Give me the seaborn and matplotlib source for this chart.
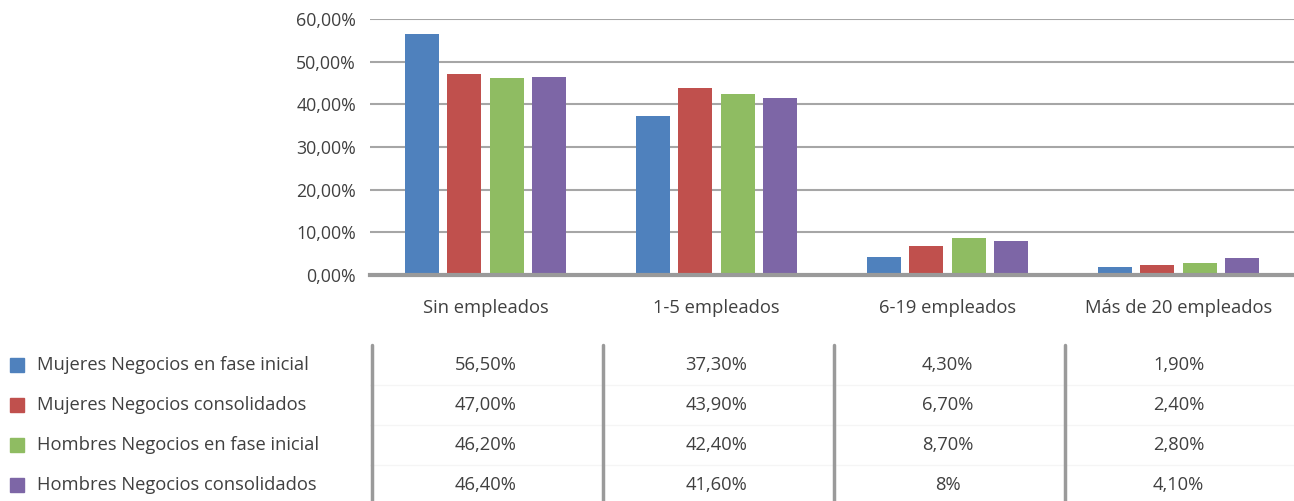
import matplotlib
matplotlib.use("Agg")
import matplotlib.pyplot as plt
import seaborn as sns
import pandas as pd
from matplotlib.lines import Line2D
from matplotlib.patches import Rectangle
from matplotlib.ticker import FuncFormatter

categories = ["Sin empleados", "1-5 empleados", "6-19 empleados", "Más de 20 empleados"]
series = [
    "Mujeres Negocios en fase inicial",
    "Mujeres Negocios consolidados",
    "Hombres Negocios en fase inicial",
    "Hombres Negocios consolidados",
]
mujeres_inicial = [56.5, 37.3, 4.3, 1.9]
mujeres_consolidados = [47.0, 43.9, 6.7, 2.4]
hombres_inicial = [46.2, 42.4, 8.7, 2.8]
hombres_consolidados = [46.4, 41.6, 8.0, 4.1]
table_labels = [
    ["56,50%", "37,30%", "4,30%", "1,90%"],
    ["47,00%", "43,90%", "6,70%", "2,40%"],
    ["46,20%", "42,40%", "8,70%", "2,80%"],
    ["46,40%", "41,60%", "8%", "4,10%"],
]
colors = ["#4F81BD", "#C0504D", "#8FBC62", "#7D66A6"]

values = [mujeres_inicial, mujeres_consolidados, hombres_inicial, hombres_consolidados]
rows = []
for name, vals in zip(series, values):
    for cat, v in zip(categories, vals):
        rows.append({"categoria": cat, "serie": name, "valor": v / 100})
df = pd.DataFrame(rows)

sns.set_style("white")
plt.rcParams["font.family"] = ["Open Sans", "DejaVu Sans"]
text_color = "#404040"

W, H = 1294, 501
fig = plt.figure(figsize=(W / 100, H / 100), dpi=100)
left = 370 / W
ax = fig.add_axes([left, 1 - 275 / H, 1 - left, (275 - 19) / H])

sns.barplot(data=df, x="categoria", y="valor", hue="serie", order=categories,
            hue_order=series, palette=colors, width=0.73, gap=0.19,
            saturation=1, linewidth=0, ax=ax, legend=False)

ax.set_xlim(-0.5, 3.5)
ax.set_ylim(0, 0.6)
ax.set_yticks([0, 0.1, 0.2, 0.3, 0.4, 0.5, 0.6])
ax.yaxis.set_major_formatter(FuncFormatter(lambda v, _: f"{v * 100:.2f}%".replace(".", ",")))
ax.grid(axis="y", color="#A6A6A6", linewidth=1.5)
ax.set_axisbelow(True)
for s in ["left", "right", "top"]:
    ax.spines[s].set_visible(False)
ax.spines["bottom"].set_color("#9A9A9A")
ax.spines["bottom"].set_linewidth(3)
ax.tick_params(axis="y", length=0, pad=10, labelsize=12.8, labelcolor=text_color)
ax.tick_params(axis="x", length=0, pad=17, labelsize=13.2, labelcolor=text_color)
ax.set_xlabel("")
ax.set_ylabel("")

# data table under the chart, sharing the category positions
tab_top, tab_bottom = 345, 505
tab = fig.add_axes([left, 1 - tab_bottom / H, 1 - left, (tab_bottom - tab_top) / H])
tab.set_xlim(-0.5, 3.5)
tab.set_ylim(4, 0)
tab.axis("off")
unit = (W - 370) / 4.0          # pixels per category


def px_to_x(px):
    return (px - 370) / unit - 0.5


row_y = [0.5, 1.5, 2.5, 3.5]
for i, yv in enumerate(row_y):
    for j in range(len(categories)):
        tab.text(j, yv, table_labels[i][j], ha="center", va="center",
                 fontsize=13.2, color=text_color)
    tab.text(px_to_x(37), yv, series[i], ha="left", va="center", fontsize=13.2,
             color=text_color, clip_on=False)
    tab.add_patch(Rectangle((px_to_x(10), yv - 0.175), 14 / unit, 0.35,
                            color=colors[i], clip_on=False))
for yv in [1, 2, 3]:
    tab.add_line(Line2D([-0.5, 3.5], [yv, yv], color="#F5F5F5", linewidth=1))
for xv in [-0.5, 0.5, 1.5, 2.5]:
    tab.add_line(Line2D([xv + 1.5 / unit, xv + 1.5 / unit], [0, 4.2],
                        color="#9A9A9A", linewidth=2.5, clip_on=False))

fig.savefig("out.png", dpi=100)
